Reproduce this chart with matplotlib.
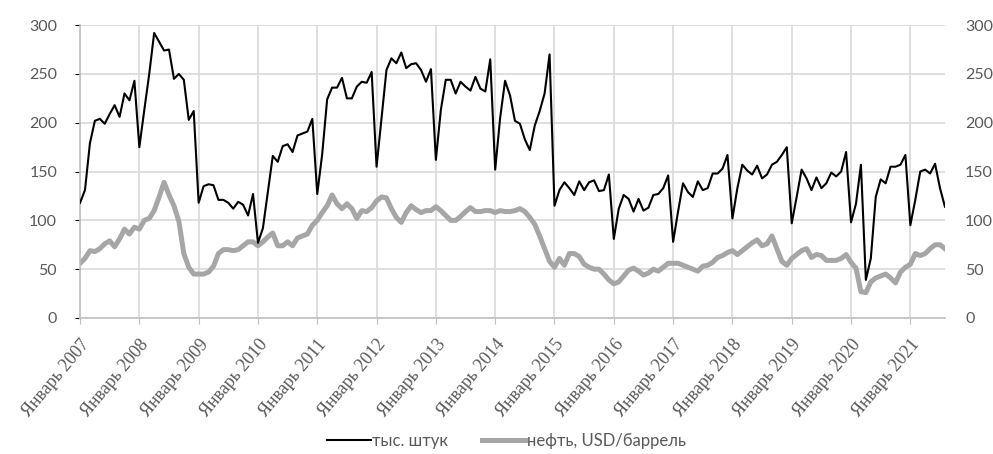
import numpy as np
import matplotlib
matplotlib.use("Agg")
import matplotlib.pyplot as plt

plt.rcParams["font.family"] = ["Lato", "DejaVu Sans"]

# monthly data, Jan 2007 .. Aug 2021
years = list(range(2007, 2022))
cars = [
    118, 131, 179, 202, 204, 199, 209, 218, 206, 230, 223, 243,  # 2007
    175, 213, 250, 292, 283, 274, 275, 245, 250, 244, 203, 212,  # 2008
    118, 135, 137, 136, 121, 121, 118, 112, 119, 116, 105, 127,  # 2009
    77, 92, 129, 166, 160, 176, 178, 170, 187, 189, 191, 204,  # 2010
    127, 168, 224, 236, 236, 246, 225, 225, 237, 242, 241, 252,  # 2011
    155, 204, 254, 266, 261, 272, 256, 260, 261, 254, 242, 255,  # 2012
    162, 213, 244, 244, 230, 242, 237, 233, 247, 235, 232, 265,  # 2013
    152, 205, 243, 228, 202, 199, 183, 172, 197, 212, 230, 270,  # 2014
    115, 131, 139, 133, 126, 140, 131, 139, 141, 130, 131, 147,  # 2015
    81, 112, 126, 122, 109, 122, 110, 113, 126, 127, 133, 146,  # 2016
    78, 109, 138, 129, 124, 140, 131, 133, 148, 148, 153, 167,  # 2017
    102, 133, 157, 151, 147, 156, 143, 147, 157, 160, 167, 175,  # 2018
    97, 124, 152, 143, 131, 144, 133, 138, 149, 145, 150, 170,  # 2019
    98, 117, 157, 39, 61, 124, 142, 138, 155, 155, 157, 167,  # 2020
    95, 121, 150, 152, 148, 158, 133, 114,  # 2021
]
oil = [
    56, 61, 69, 68, 71, 76, 79, 73, 81, 91, 86, 93,  # 2007
    91, 100, 102, 110, 124, 139, 126, 115, 99, 66, 52, 45,  # 2008
    45, 45, 47, 53, 66, 70, 70, 69, 70, 74, 78, 78,  # 2009
    74, 78, 83, 87, 74, 74, 78, 74, 82, 84, 86, 95,  # 2010
    100, 108, 115, 126, 117, 112, 117, 112, 102, 110, 109, 113,  # 2011
    120, 124, 123, 112, 103, 98, 108, 115, 111, 108, 110, 110,  # 2012
    114, 110, 105, 100, 100, 104, 109, 113, 109, 109, 110, 110,  # 2013
    108, 110, 109, 109, 110, 112, 109, 103, 96, 84, 71, 58,  # 2014
    52, 61, 54, 66, 66, 63, 55, 52, 50, 50, 45, 39,  # 2015
    35, 37, 43, 49, 51, 48, 44, 46, 50, 48, 52, 56,  # 2016
    56, 56, 54, 52, 50, 48, 53, 54, 57, 62, 64, 67,  # 2017
    69, 65, 69, 73, 77, 80, 74, 76, 84, 71, 58, 54,  # 2018
    61, 65, 69, 71, 62, 65, 64, 59, 59, 59, 61, 65,  # 2019
    57, 51, 27, 26, 37, 41, 43, 45, 41, 36, 47, 52,  # 2020
    55, 66, 64, 66, 71, 75, 75, 71,  # 2021
]
tick_labels = ["Январь %d" % y for y in years]

x = np.arange(len(cars))
txt = "#595959"
grid = "#d9d9d9"

fig = plt.figure(figsize=(9.93, 4.54), dpi=100)
ax = fig.add_axes([0.0806, 0.2996, 0.871, 0.645])

ax.plot(x, cars, color="black", lw=1.5, label="тыс. штук", zorder=3)
ax.plot(x, oil, color="#a6a6a6", lw=3.6, label="нефть, USD/баррель", zorder=2,
        solid_joinstyle="round")

ax.set_xlim(0, len(cars) - 1)
ax.set_ylim(0, 300)
ax.set_yticks(range(0, 301, 50))
ax.set_xticks(np.arange(0, len(cars), 12))
ax.set_xticklabels(tick_labels, rotation=50, ha="right", rotation_mode="anchor",
                   family="Liberation Serif", fontsize=13, color=txt)
ax.grid(True, color=grid, lw=1.2)
ax.set_axisbelow(True)

for s in ["top", "right"]:
    ax.spines[s].set_visible(False)
for s in ["left", "bottom"]:
    ax.spines[s].set_color("#bfbfbf")
    ax.spines[s].set_linewidth(1.2)

ax.tick_params(axis="y", left=False, labelsize=11.5, labelcolor=txt, pad=13)
ax.tick_params(axis="x", length=4, color="#bfbfbf", pad=9)

# right-hand labels, same scale
ax2 = ax.twinx()
ax2.set_ylim(ax.get_ylim())
ax2.set_yticks(range(0, 301, 50))
for s in ax2.spines.values():
    s.set_visible(False)
ax2.tick_params(axis="y", right=False, labelsize=11.5, labelcolor=txt, pad=11)

fig.legend(*ax.get_legend_handles_labels(), loc="center",
           bbox_to_anchor=(0.51, 0.028), ncol=2, frameon=False,
           prop={"family": "Lato", "size": 12}, labelcolor=txt,
           handlelength=2.6, handletextpad=0.1, columnspacing=2.0)

fig.savefig("out.png", dpi=100)
